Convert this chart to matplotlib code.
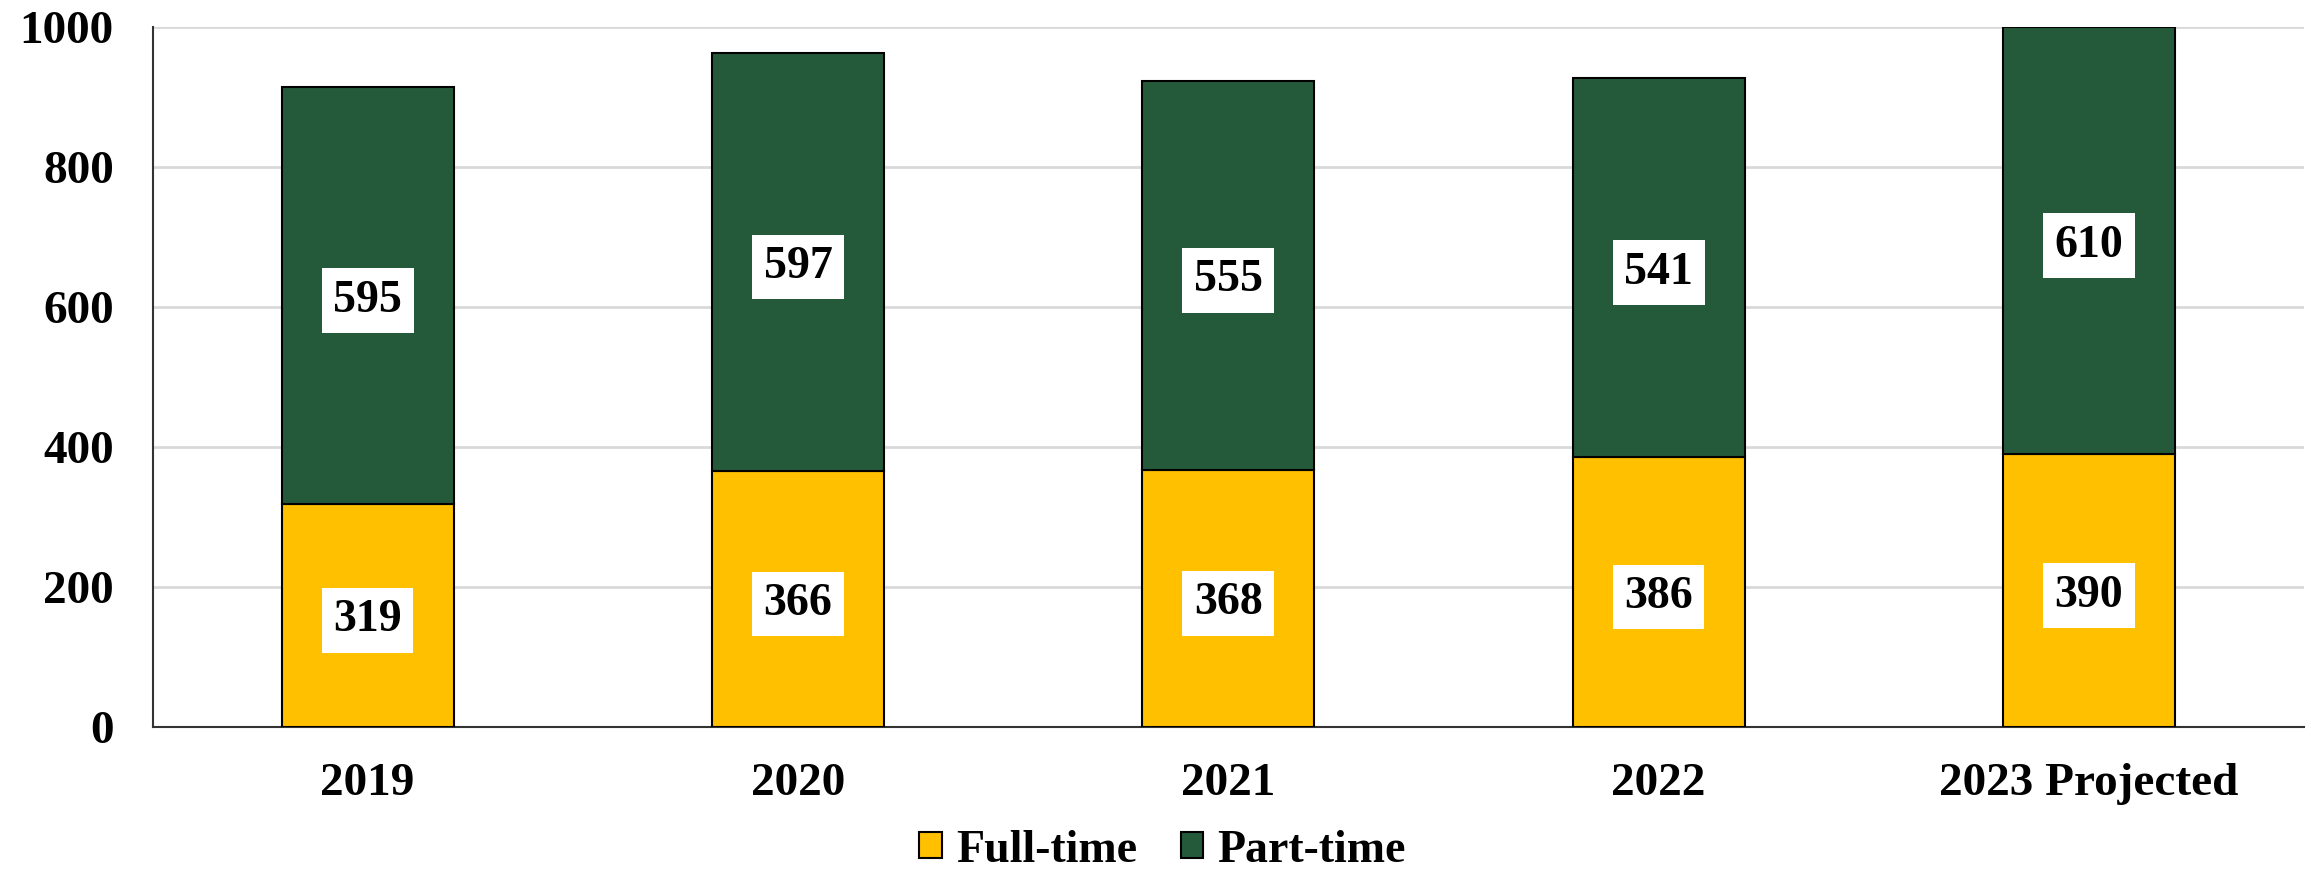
import numpy as np
import matplotlib.pyplot as plt
from matplotlib.patches import Patch

# data
years = ['2019', '2020', '2021', '2022', '2023 Projected']
full_time = [319, 366, 368, 386, 390]
part_time = [595, 597, 555, 541, 610]

yellow = '#FFC000'
green = '#245A3A'

plt.rcParams['font.family'] = 'Liberation Serif'
plt.rcParams['font.weight'] = 'bold'
fs = 34

fig = plt.figure(figsize=(23.11, 8.75), dpi=100)
ax = fig.add_axes([0.066, 0.169, 0.931, 0.8])

x = np.arange(len(years))
ax.bar(x, full_time, width=0.4, color=yellow, edgecolor='black', linewidth=1.5, zorder=3)
ax.bar(x, part_time, width=0.4, bottom=full_time, color=green, edgecolor='black', linewidth=1.5, zorder=3)

# value labels in white boxes, centred on each segment
box = dict(boxstyle='square,pad=0.25', facecolor='white', edgecolor='none')
for i in range(len(years)):
    ax.text(x[i], full_time[i] / 2, str(full_time[i]), ha='center', va='center_baseline',
            fontsize=fs - 1, fontweight='bold', bbox=box, zorder=4)
    ax.text(x[i], full_time[i] + part_time[i] / 2, str(part_time[i]), ha='center', va='center_baseline',
            fontsize=fs - 1, fontweight='bold', bbox=box, zorder=4)

ax.set_xlim(-0.5, len(years) - 0.5)
ax.set_ylim(0, 1000)
ax.set_yticks(range(0, 1001, 200))
ax.set_xticks(x)
ax.set_xticklabels(years)
ax.tick_params(axis='both', length=0, labelsize=fs)
ax.tick_params(axis='x', pad=26)
ax.tick_params(axis='y', pad=28)
for lbl in ax.get_xticklabels() + ax.get_yticklabels():
    lbl.set_fontweight('bold')

ax.grid(axis='y', color='#D9D9D9', linewidth=2, zorder=0)
ax.spines['top'].set_visible(False)
ax.spines['right'].set_visible(False)
ax.spines['left'].set_color('#333333')
ax.spines['bottom'].set_color('#333333')
ax.spines['left'].set_linewidth(1.5)
ax.spines['bottom'].set_linewidth(1.5)

handles = [Patch(facecolor=yellow, edgecolor='black', linewidth=1.5, label='Full-time'),
           Patch(facecolor=green, edgecolor='black', linewidth=1.5, label='Part-time')]
fig.legend(handles=handles, loc='center', bbox_to_anchor=(0.503, 0.028), ncol=2, frameon=False,
           fontsize=fs - 1, handlelength=0.5, handleheight=0.5, handletextpad=0.3, columnspacing=0.95,
           borderpad=0, borderaxespad=0)

fig.savefig('out.png')
